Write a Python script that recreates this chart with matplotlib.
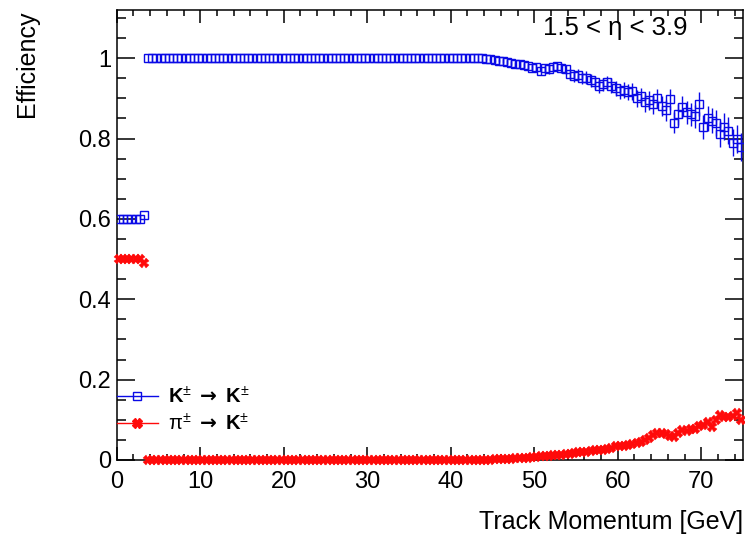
import numpy as np
import matplotlib
matplotlib.use("Agg")
import matplotlib.pyplot as plt
from matplotlib.lines import Line2D
from matplotlib.ticker import MultipleLocator, FuncFormatter

plt.rcParams["font.family"] = ["Liberation Sans", "DejaVu Sans"]
plt.rcParams["mathtext.fontset"] = "custom"
plt.rcParams["mathtext.rm"] = "Liberation Sans"
plt.rcParams["mathtext.it"] = "Liberation Sans:italic"
plt.rcParams["mathtext.bf"] = "DejaVu Sans:bold"

# histogram binning: 150 bins of 0.5 GeV between 0 and 75 GeV
bin_edges = np.linspace(0, 75, 151)
momentum = 0.5 * (bin_edges[:-1] + bin_edges[1:])

# K -> K efficiency (blue)
kk_low = [0.60, 0.60, 0.60, 0.60, 0.60, 0.60, 0.61]
kk_plateau = [1.0] * 81
kk_tail = [0.998, 0.997, 0.995, 0.994, 0.992, 0.99, 0.988, 0.985, 0.986, 0.982,
           0.98, 0.975, 0.978, 0.968, 0.975, 0.972, 0.978, 0.98, 0.976, 0.972,
           0.96, 0.955, 0.958, 0.95, 0.952, 0.945, 0.94, 0.93, 0.935, 0.94,
           0.932, 0.925, 0.918, 0.92, 0.915, 0.918, 0.9, 0.905, 0.89, 0.895,
           0.885, 0.9, 0.88, 0.87, 0.898, 0.84, 0.86, 0.878, 0.865, 0.86,
           0.855, 0.886, 0.828, 0.85, 0.845, 0.838, 0.812, 0.83, 0.82, 0.79,
           0.8, 0.778]
kk_tail_err = [0.003, 0.003, 0.004, 0.004, 0.005, 0.005, 0.006, 0.006, 0.007, 0.007,
               0.008, 0.009, 0.009, 0.01, 0.01, 0.011, 0.011, 0.011, 0.012, 0.012,
               0.013, 0.014, 0.014, 0.015, 0.015, 0.016, 0.016, 0.017, 0.017, 0.017,
               0.018, 0.019, 0.019, 0.02, 0.02, 0.021, 0.022, 0.022, 0.023, 0.023,
               0.024, 0.024, 0.025, 0.026, 0.026, 0.027, 0.027, 0.028, 0.028, 0.029,
               0.029, 0.03, 0.03, 0.031, 0.031, 0.032, 0.033, 0.033, 0.034, 0.034,
               0.035, 0.035]

# pi -> K misidentification (red)
pik_low = [0.50, 0.50, 0.50, 0.50, 0.50, 0.50, 0.49]
pik_plateau = [0.0] * 81
pik_tail = [0.001, 0.001, 0.002, 0.002, 0.002, 0.003, 0.003, 0.004, 0.004, 0.005,
            0.006, 0.007, 0.008, 0.009, 0.01, 0.011, 0.012, 0.012, 0.013, 0.014,
            0.016, 0.018, 0.019, 0.02, 0.021, 0.023, 0.025, 0.026, 0.026, 0.028,
            0.03, 0.035, 0.034, 0.036, 0.038, 0.04, 0.042, 0.045, 0.05, 0.055,
            0.062, 0.067, 0.066, 0.064, 0.06, 0.058, 0.068, 0.074, 0.073, 0.076,
            0.078, 0.085, 0.088, 0.095, 0.082, 0.1, 0.112, 0.106, 0.108, 0.11,
            0.118, 0.1]

kk_eff = np.array(kk_low + kk_plateau + kk_tail)
kk_err = np.array([0.0] * (len(kk_low) + len(kk_plateau)) + kk_tail_err)
pik_eff = np.array(pik_low + pik_plateau + pik_tail)

BLUE = "#0a0ae6"
RED = "#ff0a0a"

fig = plt.figure(figsize=(7.45, 5.36), dpi=100)
ax = fig.add_axes([0.1567, 0.1418, 0.8406, 0.8395])

ax.errorbar(momentum, kk_eff, yerr=kk_err, fmt="s", ms=5.8, mfc="none",
            mec=BLUE, mew=1.0, ecolor=BLUE, elinewidth=1.0, capsize=0, zorder=3)
ax.plot(momentum, pik_eff, "X", ms=6.5, color=RED, mec=RED, mew=0.3,
        ls="none", zorder=4, clip_on=False)

ax.set_xlim(0, 75)
ax.set_ylim(0, 1.12)

ax.xaxis.set_major_locator(MultipleLocator(10))
ax.xaxis.set_minor_locator(MultipleLocator(2))
ax.yaxis.set_major_locator(MultipleLocator(0.2))
ax.yaxis.set_minor_locator(MultipleLocator(0.05))
ax.yaxis.set_major_formatter(FuncFormatter(lambda v, p: "%g" % round(v, 2)))

ax.tick_params(which="both", direction="in", top=True, right=True, width=1.1,
               labelsize=17)
ax.tick_params(axis="x", which="major", length=9.5, pad=8)
ax.tick_params(axis="x", which="minor", length=4.5)
ax.tick_params(axis="y", which="major", length=13, pad=4)
ax.tick_params(axis="y", which="minor", length=6.5)
for sp in ax.spines.values():
    sp.set_linewidth(1.1)

ax.set_xlabel("Track Momentum [GeV]", fontsize=18, loc="right")
ax.xaxis.set_label_coords(1.0, -0.111)
ax.set_ylabel("Efficiency", fontsize=18, loc="top")
ax.yaxis.set_label_coords(-0.124, 1.0)

ax.text(0.9106, 0.96, "1.5 < \u03b7 < 3.9", transform=ax.transAxes,
        ha="right", va="center", fontsize=18.5)

handles = [
    Line2D([], [], color=BLUE, lw=1.0, marker="s", ms=5.8, mfc="none", mec=BLUE),
    Line2D([], [], color=RED, lw=1.0, marker="X", ms=6.5, mfc=RED, mec=RED),
]
labels = [r"K$^{\pm}$ $\mathbf{\rightarrow}$ K$^{\pm}$",
          r"$\mathrm{\pi}^{\pm}$ $\mathbf{\rightarrow}$ K$^{\pm}$"]
ax.legend(handles, labels, loc="upper left", bbox_to_anchor=(0.0, 0.164),
          frameon=False, prop={"size": 14.5, "weight": "bold"},
          handlelength=2.04, handletextpad=0.5,
          borderpad=0, borderaxespad=0, labelspacing=0.26)

fig.savefig("out.png", dpi=100)
